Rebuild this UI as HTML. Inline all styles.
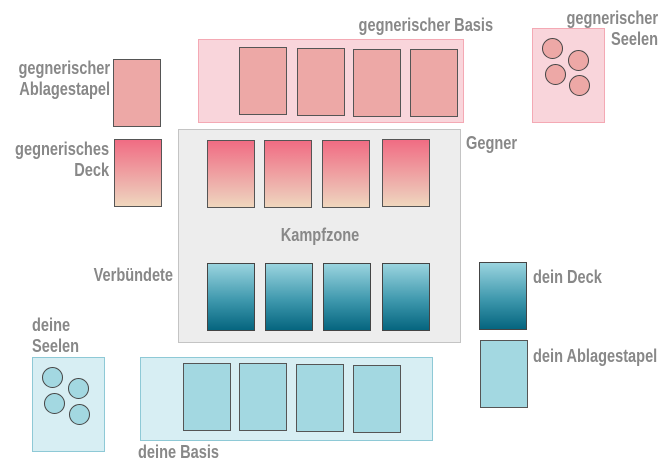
<!DOCTYPE html>
<html><head><meta charset="utf-8"><style>
body{margin:0;background:#fff;width:670px;height:474px;overflow:hidden;position:relative;font-family:"Liberation Sans",sans-serif}
div{position:absolute;box-sizing:border-box}
.pb{background:#f9d5db;border:1px solid #f4a9b4}
.tb{background:#d7eef3;border:1px solid #8ec9d6}
.kz{background:#ededed;border:1px solid #c4c4c4}
.pc{background:#eda8a6;border:1.5px solid #555}
.pg{background:linear-gradient(#f06c83,#eec0b4 80%,#f0d7bd);border:1.5px solid #555}
.tg{background:linear-gradient(#9ad4df,#3e98ad 55%,#05657f);border:1.5px solid #444}
.tc{background:#a3d8e1;border:1.5px solid #555}
.c{border-radius:50%;width:21px;height:21px;border:1.5px solid #444}
.l{font-weight:bold;font-size:18px;color:#888;line-height:21px;white-space:nowrap;transform:scaleX(.81)}
.r{text-align:right;transform-origin:right center}
.le{transform-origin:left center}
</style></head><body>
<div class="pb" style="left:198px;top:39px;width:266px;height:84px"></div>
<div class="pc" style="left:239px;top:47px;width:48px;height:68px"></div>
<div class="pc" style="left:297px;top:48px;width:48px;height:68px"></div>
<div class="pc" style="left:353px;top:49px;width:48px;height:68px"></div>
<div class="pc" style="left:410px;top:49px;width:48px;height:68px"></div>
<div class="l r" style="right:177px;top:15px">gegnerischer Basis</div>
<div class="pb" style="left:532px;top:28px;width:73px;height:95px"></div>
<div class="pc c" style="left:542px;top:38px"></div>
<div class="pc c" style="left:568px;top:50px"></div>
<div class="pc c" style="left:545px;top:64px"></div>
<div class="pc c" style="left:569px;top:75px"></div>
<div class="l r" style="right:12px;top:8px">gegnerischer<br>Seelen</div>
<div class="pc" style="left:113px;top:59px;width:48px;height:68px"></div>
<div class="l r" style="right:560px;top:58px">gegnerischer<br>Ablagestapel</div>
<div class="pg" style="left:114px;top:139px;width:48px;height:68px"></div>
<div class="l r" style="right:561px;top:139px">gegnerisches<br>Deck</div>
<div class="kz" style="left:178px;top:129px;width:283px;height:214px"></div>
<div class="pg" style="left:207px;top:140px;width:48px;height:68px"></div>
<div class="pg" style="left:264px;top:140px;width:48px;height:68px"></div>
<div class="pg" style="left:322px;top:140px;width:48px;height:68px"></div>
<div class="pg" style="left:382px;top:139px;width:48px;height:68px"></div>
<div class="tg" style="left:207px;top:263px;width:48px;height:68px"></div>
<div class="tg" style="left:265px;top:263px;width:48px;height:68px"></div>
<div class="tg" style="left:323px;top:263px;width:48px;height:68px"></div>
<div class="tg" style="left:382px;top:263px;width:48px;height:68px"></div>
<div class="l" style="left:260px;top:225px;width:120px;text-align:center;transform-origin:center">Kampfzone</div>
<div class="l le" style="left:466px;top:133px">Gegner</div>
<div class="l r" style="right:497px;top:265px">Verbündete</div>
<div class="tg" style="left:479px;top:262px;width:48px;height:68px"></div>
<div class="l le" style="left:533px;top:267px">dein Deck</div>
<div class="tc" style="left:480px;top:340px;width:48px;height:68px"></div>
<div class="l le" style="left:533px;top:346px">dein Ablagestapel</div>
<div class="tb" style="left:32px;top:357px;width:73px;height:95px"></div>
<div class="tc c" style="left:42px;top:367px"></div>
<div class="tc c" style="left:68px;top:378px"></div>
<div class="tc c" style="left:44px;top:393px"></div>
<div class="tc c" style="left:69px;top:404px"></div>
<div class="l le" style="left:32px;top:315px">deine<br>Seelen</div>
<div class="tb" style="left:140px;top:357px;width:293px;height:84px"></div>
<div class="tc" style="left:183px;top:363px;width:48px;height:68px"></div>
<div class="tc" style="left:239px;top:363px;width:48px;height:68px"></div>
<div class="tc" style="left:296px;top:364px;width:48px;height:68px"></div>
<div class="tc" style="left:353px;top:365px;width:48px;height:68px"></div>
<div class="l le" style="left:138px;top:442px">deine Basis</div>
</body></html>
